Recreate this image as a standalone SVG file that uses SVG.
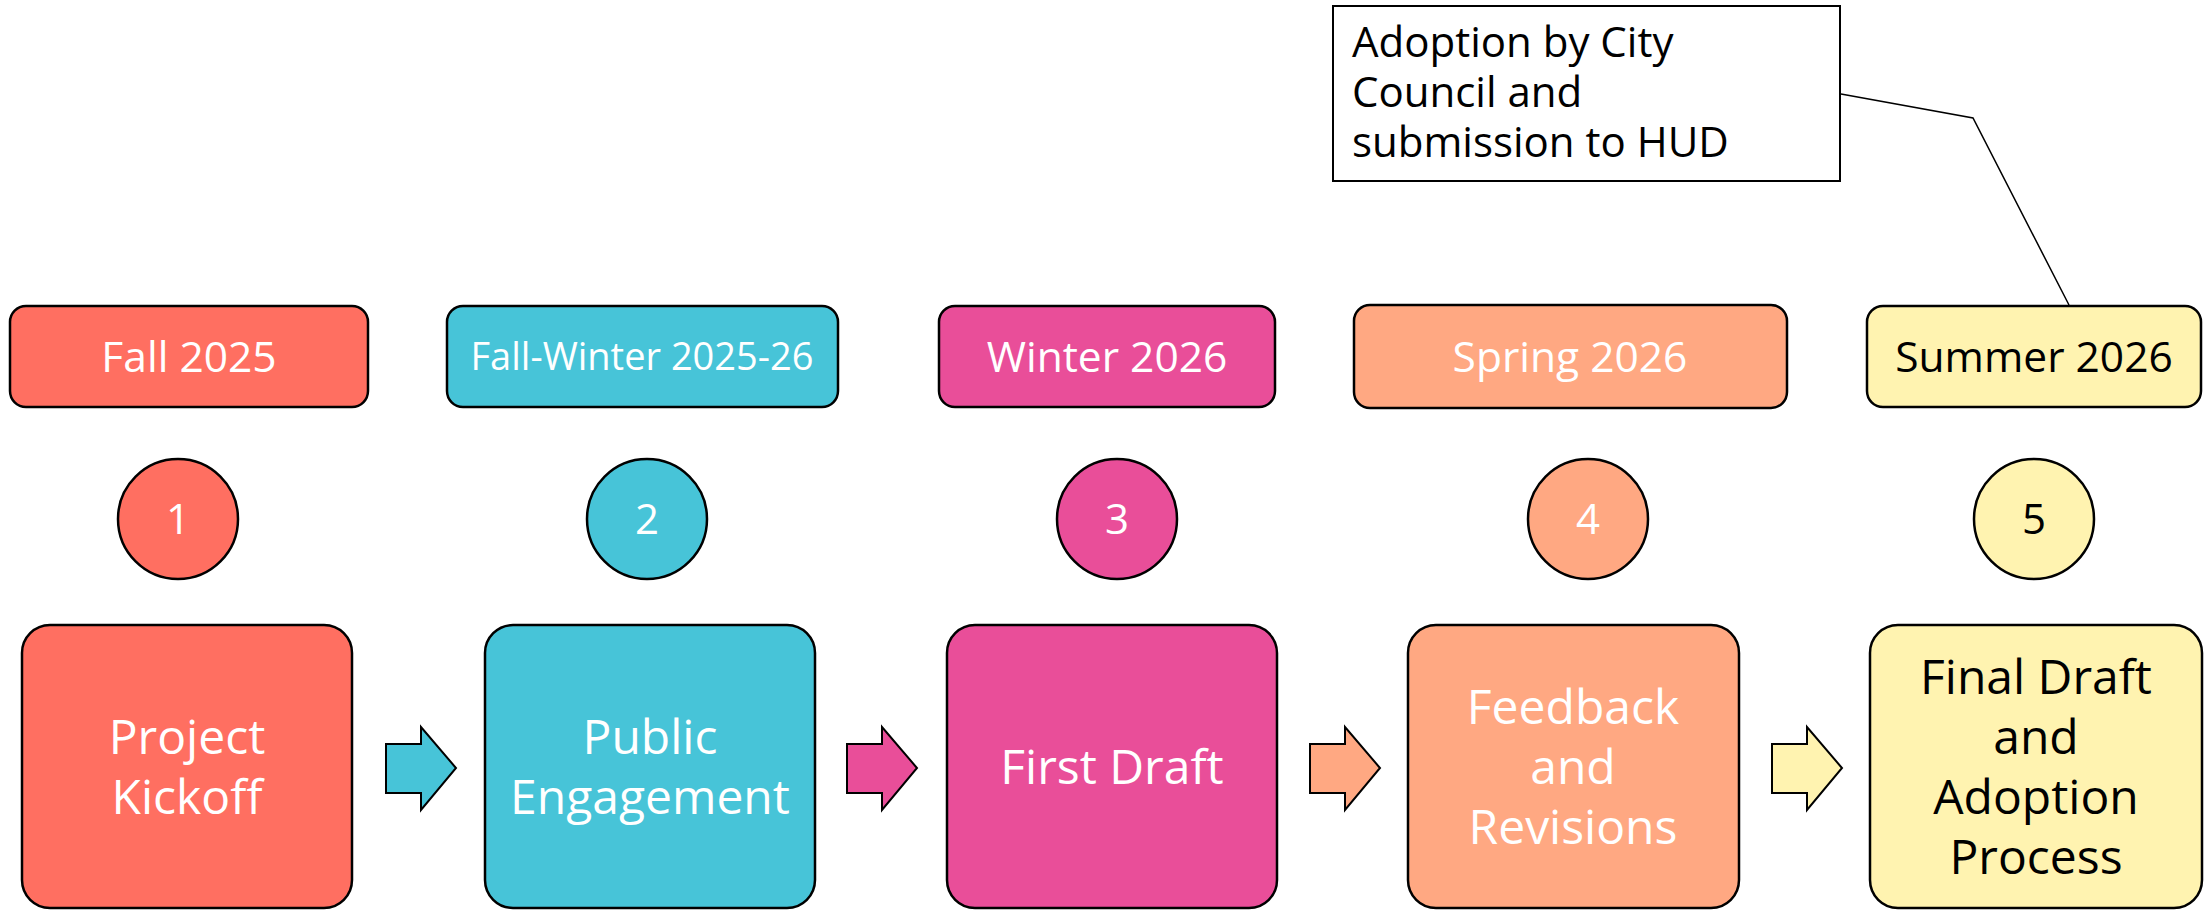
<svg xmlns="http://www.w3.org/2000/svg" width="2211" height="910" viewBox="0 0 2211 910">
<style>
text{font-family:"Open Sans","Noto Sans","Liberation Sans",sans-serif;text-anchor:middle}
.pill{stroke:#000;stroke-width:2.5}
.box{stroke:#000;stroke-width:2.5}
.circ{stroke:#000;stroke-width:2.5}
.arr{stroke:#000;stroke-width:2}
.pt{font-size:42.5px}
.nt{font-size:42px}
.bt{font-size:48px}
.ct{font-size:42px;text-anchor:start}
.w{fill:#fff}
.k{fill:#000}
.c1{fill:#FF6F61}.c2{fill:#47C4D8}.c3{fill:#E94E99}.c4{fill:#FFA882}.c5{fill:#FFF3B0}
</style>
<rect width="2211" height="910" fill="#fff"/>
<g id="connectors">
<polygon class="arr c2" points="386,744 421,744 421,727 456,768 421,810 421,793 386,793"/>
<polygon class="arr c3" points="847,744 882,744 882,727 917,768 882,810 882,793 847,793"/>
<polygon class="arr c4" points="1310,744 1345,744 1345,727 1380,768 1345,810 1345,793 1310,793"/>
<polygon class="arr c5" points="1772,744 1807,744 1807,727 1842,768 1807,810 1807,793 1772,793"/>
<polyline points="1841,94 1973,118 2069,305" fill="none" stroke="#000" stroke-width="1.5"/>
</g>
<g id="callout">
<rect x="1333" y="6" width="507" height="175" fill="#fff" stroke="#000" stroke-width="2"/>
<text x="1352" y="57" class="ct k">Adoption by City</text>
<text x="1352" y="107" class="ct k">Council and</text>
<text x="1352" y="157" class="ct k">submission to HUD</text>
</g>
<g id="pill1"><rect class="pill c1" x="10" y="306" width="358" height="101" rx="16"/><text class="pt w" x="189" y="372">Fall 2025</text></g>
<g id="pill2"><rect class="pill c2" x="447" y="306" width="391" height="101" rx="16"/><text class="w" style="font-size:38px" x="642" y="370">Fall-Winter 2025-26</text></g>
<g id="pill3"><rect class="pill c3" x="939" y="306" width="336" height="101" rx="16"/><text class="pt w" x="1107" y="372">Winter 2026</text></g>
<g id="pill4"><rect class="pill c4" x="1354" y="305" width="433" height="103" rx="16"/><text class="pt w" x="1570" y="372">Spring 2026</text></g>
<g id="pill5"><rect class="pill c5" x="1867" y="306" width="334" height="101" rx="16"/><text class="pt k" x="2034" y="372">Summer 2026</text></g>
<g id="num1"><circle class="circ c1" cx="178" cy="519" r="60"/><text class="nt w" x="178" y="534">1</text></g>
<g id="num2"><circle class="circ c2" cx="647" cy="519" r="60"/><text class="nt w" x="647" y="534">2</text></g>
<g id="num3"><circle class="circ c3" cx="1117" cy="519" r="60"/><text class="nt w" x="1117" y="534">3</text></g>
<g id="num4"><circle class="circ c4" cx="1588" cy="519" r="60"/><text class="nt w" x="1588" y="534">4</text></g>
<g id="num5"><circle class="circ c5" cx="2034" cy="519" r="60"/><text class="nt k" x="2034" y="534">5</text></g>
<g id="step1"><rect class="box c1" x="22" y="625" width="330" height="283" rx="28"/>
<text class="bt w" x="187" y="754">Project</text><text class="bt w" x="187" y="814">Kickoff</text></g>
<g id="step2"><rect class="box c2" x="485" y="625" width="330" height="283" rx="28"/>
<text class="bt w" x="650" y="754">Public</text><text class="bt w" x="650" y="814">Engagement</text></g>
<g id="step3"><rect class="box c3" x="947" y="625" width="330" height="283" rx="28"/>
<text class="bt w" x="1112" y="784">First Draft</text></g>
<g id="step4"><rect class="box c4" x="1408" y="625" width="331" height="283" rx="28"/>
<text class="bt w" x="1573" y="724">Feedback</text><text class="bt w" x="1573" y="784">and</text><text class="bt w" x="1573" y="844">Revisions</text></g>
<g id="step5"><rect class="box c5" x="1870" y="625" width="332" height="283" rx="28"/>
<text class="bt k" x="2036" y="694">Final Draft</text><text class="bt k" x="2036" y="754">and</text><text class="bt k" x="2036" y="814">Adoption</text><text class="bt k" x="2036" y="874">Process</text></g>
</svg>
